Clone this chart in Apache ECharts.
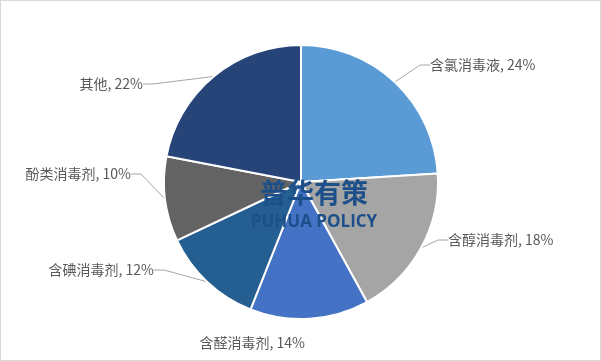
<!DOCTYPE html>
<html><head><meta charset="utf-8">
<script src="https://cdn.jsdelivr.net/npm/echarts@6/dist/echarts.min.js"></script>
<style>html,body{margin:0;padding:0;background:#fff}#c{width:601px;height:361px;box-sizing:border-box;border:1px solid #d9d9d9}</style>
</head><body><div id="c"></div>
<script>
const categories = ['含氯消毒液','含醇消毒剂','含醛消毒剂','含碘消毒剂','酚类消毒剂','其他'];
const values = [24,18,14,12,10,22];
const colors = ['#5B9BD5','#A5A5A5','#4472C4','#255E91','#636363','#264478'];
// label anchor spots (x, y, align)
const labelSpots = [[429,64,'left'],[447,239,'left'],[304,342,'right'],[153,269,'right'],[130,173,'right'],[142,83,'right']];
const chart = echarts.init(document.getElementById('c'), null, {renderer:'canvas'});
chart.setOption({
  animation:false,
  color: colors,
  graphic:[
    {type:'text', z:100, style:{x:313, y:192, text:'普华有策', textAlign:'center', textVerticalAlign:'middle', font:'bold 27px "Noto Sans CJK SC"', fill:'#1D4F8A'}},
    {type:'text', z:100, style:{x:313, y:221, text:'PUHUA POLICY', textAlign:'center', textVerticalAlign:'middle', font:'bold 17px "Open Sans"', fill:'#1D4F8A'}}
  ],
  series:[{
    type:'pie',
    center:[300,181],
    radius:[0,137],
    startAngle:90,
    clockwise:true,
    itemStyle:{borderColor:'#fff', borderWidth:2},
    label:{show:true, formatter:'{b}, {c}%', color:'#595959', fontSize:14, fontFamily:'"Noto Sans CJK SC"'},
    labelLine:{show:true, length:10, length2:10, lineStyle:{color:'#a6a6a6', width:1}},
    labelLayout: function(p){
      const s = labelSpots[p.dataIndex];
      return {x:s[0], y:s[1], align:s[2], verticalAlign:'middle'};
    },
    data: categories.map((n,i)=>({name:n, value:values[i], labelLine:{show: i !== 2}}))
  }]
});
</script></body></html>
